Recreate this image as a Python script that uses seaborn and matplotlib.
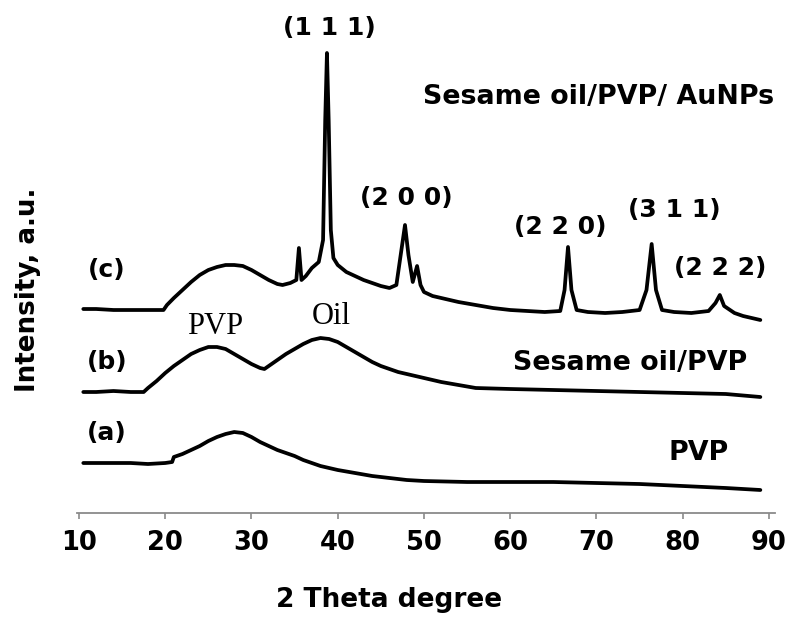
import matplotlib
matplotlib.use("Agg")
import matplotlib.pyplot as plt
import seaborn as sns
import pandas as pd

# ---- data (2theta in degrees, intensity in a.u. above each trace's baseline) ----
two_theta_a = [10.5, 12, 14, 16, 18, 20, 20.8, 21, 22, 23, 24, 25, 26, 27, 28, 29, 30, 31,
               32, 33, 34, 35, 36, 38, 40, 42, 44, 46, 48, 50, 55, 60, 65, 70, 75, 80, 85, 89]
intensity_a = [0, 0, 0, 0, -1, 0, 1, 6, 9, 13, 17, 22, 26, 29, 31, 30, 26, 21,
               17, 13, 10, 7, 3, -3, -7, -10, -13, -15, -17, -18, -19, -19, -19, -20, -21, -23, -25, -27]

two_theta_b = [10.5, 12, 14, 16, 17.5, 18, 19, 20, 21, 22, 23, 24, 25, 26, 27, 28, 29, 30,
               31, 31.5, 32, 33, 34, 35, 36, 37, 38, 39, 40, 41, 42, 43, 44, 45, 46, 47,
               48, 49, 50, 52, 54, 56, 60, 65, 70, 75, 80, 85, 89]
intensity_b = [0, 0, 1, 0, 0, 4, 11, 19, 26, 32, 38, 42, 45, 45, 43, 38, 33, 28,
               24, 23, 26, 32, 38, 43, 48, 52, 54, 53, 50, 45, 40, 35, 30, 26, 23, 20,
               18, 16, 14, 10, 7, 4, 3, 2, 1, 0, -1, -2, -5]

two_theta_c = [10.5, 12, 14, 16, 18, 19.8, 20.2, 21, 22, 23, 24, 25, 26, 27, 28, 29, 30,
               31, 32, 33, 33.6, 34.5, 35.2, 35.5, 35.8, 36.3, 37, 37.8, 38.3, 38.55, 38.75,
               38.95, 39.2, 39.5, 40, 41, 42, 43, 44, 45, 46, 46.8, 47.3, 47.8, 48.2, 48.7,
               49.2, 49.6, 50, 51, 52, 54, 56, 58, 60, 62, 64, 65.8, 66.3, 66.7, 67.1, 67.7,
               69, 71, 73, 75, 75.8, 76.4, 76.9, 77.6, 79, 81, 83, 83.8, 84.3, 84.8, 86, 87,
               88, 89]
intensity_c = [1, 1, 0, 0, 0, 0, 5, 12, 20, 28, 35, 40, 43, 45, 45, 44, 40,
               35, 30, 26, 25, 27, 30, 62, 30, 34, 42, 48, 70, 190, 257,
               190, 80, 52, 45, 38, 34, 30, 27, 24, 22, 25, 55, 85, 55, 28,
               44, 25, 18, 14, 12, 8, 5, 2, 0, -1, -2, -1, 20, 63, 20, 0,
               -2, -3, -2, 0, 20, 66, 20, 0, -2, -3, -1, 7, 15, 4, -3, -6,
               -8, -10]

trace_names = ["(a)", "(b)", "(c)"]
trace_offsets = [50, 121, 203]

frames = []
for name, tt, inten, off in zip(trace_names,
                                [two_theta_a, two_theta_b, two_theta_c],
                                [intensity_a, intensity_b, intensity_c],
                                trace_offsets):
    frames.append(pd.DataFrame({"two_theta": tt,
                                "intensity": [v + off for v in inten],
                                "trace": name}))
df = pd.concat(frames, ignore_index=True)

sns.set_style("white")
plt.rcParams["font.family"] = ["DejaVu Sans"]
plt.rcParams["text.color"] = "black"
plt.rcParams["xtick.color"] = "black"
plt.rcParams["axes.labelcolor"] = "black"

fig = plt.figure(figsize=(7.9, 6.19), dpi=100)
ax = fig.add_axes([77 / 790, 1 - 513 / 619, 698 / 790, 513 / 619])

sns.lineplot(data=df, x="two_theta", y="intensity", hue="trace", units="trace",
             estimator=None, palette=["black"] * 3, linewidth=2.7, legend=False, ax=ax)

ax.set_xlim(9.77, 90.7)
ax.set_ylim(0, 513)
ax.set_xticks([10, 20, 30, 40, 50, 60, 70, 80, 90])
ax.set_xticklabels(["10", "20", "30", "40", "50", "60", "70", "80", "90"],
                   fontsize=18.5, fontweight="bold", color="black")
ax.set_yticks([])
for s in ["left", "top", "right"]:
    ax.spines[s].set_visible(False)
ax.spines["bottom"].set_color("#8a8a8a")
ax.spines["bottom"].set_linewidth(1.3)
ax.tick_params(axis="x", direction="out", length=4, width=1.2, color="#8a8a8a",
               labelcolor="black", pad=8, bottom=True)

ax.set_xlabel("")
ax.set_ylabel("")
fig.text(389 / 790, 1 - 600 / 619, "2 Theta degree", fontsize=19, fontweight="bold",
         ha="center", va="center", color="black")
fig.text(28 / 790, 1 - 290 / 619, "Intensity, a.u.", fontsize=18.8, fontweight="bold",
         ha="center", va="center", rotation=90, color="black")

bold = dict(fontsize=18, fontweight="bold", ha="center", va="center", color="black")
ax.text(39.0, 485, "(1 1 1)", **bold)
ax.text(48.0, 315, "(2 0 0)", **bold)
ax.text(65.8, 286, "(2 2 0)", **bold)
ax.text(79.0, 303, "(3 1 1)", **bold)
ax.text(84.4, 245, "(2 2 2)", **bold)
ax.text(13.25, 243, "(c)", **bold)
ax.text(13.25, 151, "(b)", **bold)
ax.text(13.25, 80, "(a)", **bold)

ax.text(49.9, 416, "Sesame oil/PVP/ AuNPs", fontsize=19.4, fontweight="bold",
        ha="left", va="center", color="black")
ax.text(87.45, 150, "Sesame oil/PVP", fontsize=19.4, fontweight="bold",
        ha="right", va="center", color="black")
ax.text(81.8, 60, "PVP", fontsize=19.4, fontweight="bold", ha="center", va="center",
        color="black")

serif = dict(fontsize=22, family=["Liberation Serif", "DejaVu Serif"], ha="center",
             va="center", color="black")
ax.text(25.8, 186, "PVP", **serif)
ax.text(39.3, 196, "Oil", **serif)

fig.savefig("out.png", dpi=100)
